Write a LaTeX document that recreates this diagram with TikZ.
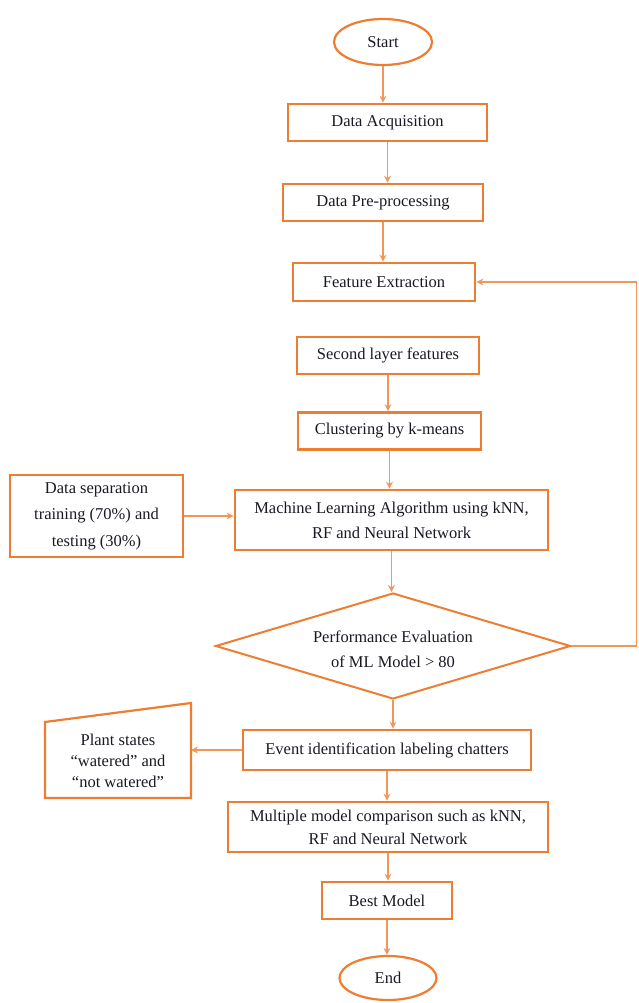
\documentclass[tikz,border=0pt]{standalone}
\usepackage{fontspec}
\setmainfont{Liberation Serif}
\usetikzlibrary{shapes.geometric,arrows.meta}
\definecolor{boxor}{RGB}{237,125,49}
\definecolor{lineor}{RGB}{242,150,90}
\definecolor{txt}{RGB}{25,25,35}
\begin{document}
\begin{tikzpicture}[x=1pt,y=-1pt,
  every node/.style={font=\fontsize{16.5}{26}\selectfont, text=txt},
  box/.style={draw=boxor, line width=2.7pt, rectangle, inner sep=0pt, align=center},
  term/.style={draw=boxor, line width=2.2pt, ellipse, inner sep=0pt},
  conn/.style={draw=lineor, line width=1.6pt, -{Stealth[length=7pt,width=7pt]}}
]
\useasboundingbox (0,0) rectangle (639,1003);
\node[term, minimum width=98, minimum height=46] (start) at (383,42) {Start};
\node[box, minimum width=199, minimum height=37] (acq) at (387.5,122.5) {Data Acquisition};
\node[box, minimum width=200, minimum height=37] (pre) at (383,202.5) {Data Pre-processing};
\node[box, minimum width=182, minimum height=38] (feat) at (384,282) {Feature Extraction};
\node[box, minimum width=182, minimum height=37] (second) at (388,355.5) {Second layer features};
\node[box, minimum width=183, minimum height=37] (clust) at (389.5,431) {Clustering by k-means};
\node[box, minimum width=313, minimum height=60, font=\fontsize{16.5}{25}\selectfont] (ml) at (391.5,520) {Machine Learning Algorithm using kNN,\\RF and Neural Network};
\node[box, minimum width=173, minimum height=82, font=\fontsize{16.5}{26.5}\selectfont] (sep) at (96.5,516) {Data separation\\training (70\%) and\\testing (30\%)};
\node[draw=boxor, line width=2pt, diamond, minimum width=355, minimum height=106, inner sep=0pt] (dec) at (393,646) {};
\node[align=center, font=\fontsize{16.5}{25}\selectfont] (dectext) at (393,649.5) {Performance Evaluation\\of ML Model > 80};
\node[box, minimum width=288, minimum height=40] (event) at (387,750) {Event identification labeling chatters};
\draw[draw=boxor, line width=2.2pt] (45,722) -- (191,703) -- (191,798) -- (45,798) -- cycle;
\coordinate (plantR) at (191,750);
\node[align=center, font=\fontsize{16.5}{21}\selectfont] (plant) at (118,761) {Plant states\\``watered'' and\\``not watered''};
\node[box, minimum width=320, minimum height=50, font=\fontsize{16.5}{23}\selectfont] (multi) at (388,827) {Multiple model comparison such as kNN,\\RF and Neural Network};
\node[box, minimum width=130, minimum height=37] (best) at (387,900.5) {Best Model};
\node[term, minimum width=97, minimum height=44] (end) at (388,978) {End};

\draw[conn] (start.south) -- (start.south |- acq.north);
\draw[conn] (acq.south) -- (acq.south |- pre.north);
\draw[conn] (pre.south) -- (pre.south |- feat.north);
\draw[conn] (second.south) -- (second.south |- clust.north);
\draw[conn] (clust.south) -- (clust.south |- ml.north);
\draw[conn] (ml.south) -- (ml.south |- dec.north);
\draw[conn] (sep.east) -- (sep.east -| ml.west);
\draw[conn] (dec.east) -- ++(65,0) |- (feat.east);
\draw[conn] (dec.south) -- (dec.south |- event.north);
\draw[conn] (event.west) -- (plantR);
\draw[conn] (event.south) -- (event.south |- multi.north);
\draw[conn] (multi.south) -- (multi.south |- best.north);
\draw[conn] (best.south) -- (best.south |- end.north);
\end{tikzpicture}
\end{document}
